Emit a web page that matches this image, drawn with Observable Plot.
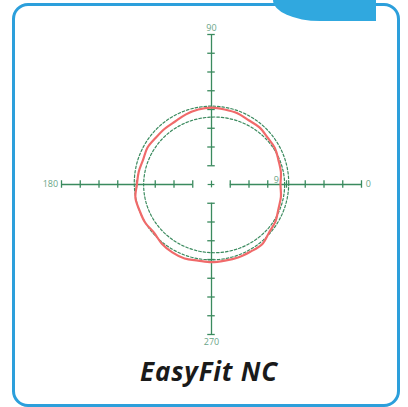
<!DOCTYPE html>
<html>
<head>
<meta charset="utf-8">
<script src="https://cdn.jsdelivr.net/npm/d3@7"></script>
<script src="https://cdn.jsdelivr.net/npm/@observablehq/plot@0.6"></script>
<style>
  html, body { margin: 0; padding: 0; background: #fff; }
  #wrap { position: relative; width: 408px; height: 407px; overflow: hidden; }
  #frame { position: absolute; left: 12px; top: 3px; width: 382px; height: 398px;
           border: 3px solid #2c9fdb; border-radius: 16px; }
  #tab { position: absolute; left: 273px; top: 0; width: 103px; height: 21px;
         background: #30a8df; border-bottom-left-radius: 47px 21px; }
  #chart { position: absolute; left: 0; top: 0; }
  #title { position: absolute; left: 0; width: 418px; top: 353px; text-align: center;
           font-family: "Open Sans", sans-serif; font-weight: 700; font-style: italic;
           font-size: 26px; color: #1a1a1a; letter-spacing: 0.8px; }
</style>
</head>
<body>
<div id="wrap">
  <div id="frame"></div>
  <div id="tab"></div>
  <div id="chart"></div>
  <div id="title">EasyFit NC</div>
</div>
<script>
// Tick positions along each half-axis (units)
const tickSteps = [5, 10, 15, 20, 25, 30, 35, 40];
// Axis end labels (angles)
const axisLabels = ["0", "90", "180", "270"];
// Measured profile: angle (deg) and radius (units)
const profileAngles = [0, 10, 20, 30, 40, 50, 60, 70, 80, 90, 100, 110, 120, 130, 140, 150, 160, 170,
                       180, 190, 200, 210, 220, 230, 240, 250, 260, 270, 280, 290, 300, 310, 320, 330, 340, 350];
const profileRadii = [18.4, 18.8, 19.0, 19.5, 19.5, 19.9, 19.8, 20.2, 20.3, 20.5, 20.3, 19.9, 19.4, 19.4, 19.4, 19.7, 19.4, 19.7,
                      19.9, 20.6, 20.4, 20.4, 20.0, 20.6, 20.9, 21.0, 20.6, 20.7, 20.6, 20.7, 20.7, 20.9, 20.0, 19.7, 19.0, 18.8];
// Tolerance circles: center x, center y, radius x, radius y (units)
const outerCircle = [0.0, 0.4, 20.6, 20.5];
const innerCircle = [0.7, -0.1, 18.8, 18.1];

const green = "#3a8a5e";
const labelGreen = "#6aa587";
const font = "Open Sans, sans-serif";

const allTicks = tickSteps.flatMap(t => [t, -t]);

function ellipsePts(c) {
  const pts = [];
  for (let a = 0; a < 360; a += 3) {
    const r = a * Math.PI / 180;
    pts.push({x: c[0] + c[2] * Math.cos(r), y: c[1] + c[3] * Math.sin(r)});
  }
  return pts;
}
const profile = profileAngles.map((a, i) => ({
  x: profileRadii[i] * Math.cos(a * Math.PI / 180),
  y: profileRadii[i] * Math.sin(a * Math.PI / 180)
}));

const maxT = tickSteps[tickSteps.length - 1];
const minT = tickSteps[0];

const plot = Plot.plot({
  width: 408,
  height: 360,
  marginLeft: 61,
  marginRight: 47,
  marginTop: 34,
  marginBottom: 26,
  x: {domain: [-maxT, maxT], axis: null},
  y: {domain: [-maxT, maxT], axis: null},
  style: {background: "transparent", overflow: "visible"},
  marks: [
    // axis segments
    Plot.ruleY([0], {x1: -maxT, x2: -minT, stroke: green, strokeWidth: 1.3}),
    Plot.ruleY([0], {x1: minT, x2: maxT, stroke: green, strokeWidth: 1.3}),
    Plot.ruleX([0], {y1: minT, y2: maxT, stroke: green, strokeWidth: 1.3}),
    Plot.ruleX([0], {y1: -maxT, y2: -minT, stroke: green, strokeWidth: 1.3}),
    // ticks
    Plot.ruleX(allTicks, {x: d => d, y1: -1, y2: 1, stroke: green, strokeWidth: 1.3}),
    Plot.ruleY(allTicks, {y: d => d, x1: -1, x2: 1, stroke: green, strokeWidth: 1.3}),
    // center plus
    Plot.ruleX([0], {y1: -0.9, y2: 0.9, stroke: green, strokeWidth: 1.2}),
    Plot.ruleY([0], {x1: -0.9, x2: 0.9, stroke: green, strokeWidth: 1.2}),
    // labels
    Plot.text([axisLabels[0]], {x: maxT + 1.1, y: 0, text: d => d, textAnchor: "start", fill: labelGreen, fontSize: 9, fontFamily: font}),
    Plot.text([axisLabels[1]], {x: 0, y: maxT + 1.8, text: d => d, textAnchor: "middle", fill: labelGreen, fontSize: 9, fontFamily: font}),
    Plot.text([axisLabels[2]], {x: -maxT - 0.9, y: 0, text: d => d, textAnchor: "end", fill: labelGreen, fontSize: 9, fontFamily: font}),
    Plot.text([axisLabels[3]], {x: 0, y: -maxT - 1.9, text: d => d, textAnchor: "middle", fill: labelGreen, fontSize: 9, fontFamily: font}),
    Plot.text(["9"], {x: 17.3, y: 1.2, text: d => d, fill: labelGreen, fontSize: 9, fontFamily: font}),
    // tolerance circles
    Plot.line(ellipsePts(outerCircle), {x: "x", y: "y", curve: "linear-closed", stroke: green,
      strokeWidth: 1.2, strokeDasharray: "2.5,2"}),
    Plot.line(ellipsePts(innerCircle), {x: "x", y: "y", curve: "linear-closed", stroke: green,
      strokeWidth: 1.2, strokeDasharray: "2.5,2"}),
    // profile
    Plot.line(profile, {x: "x", y: "y", curve: "catmull-rom-closed", stroke: "#f06a6a", strokeWidth: 2.2})
  ]
});
document.getElementById("chart").appendChild(plot);
</script>
</body>
</html>
